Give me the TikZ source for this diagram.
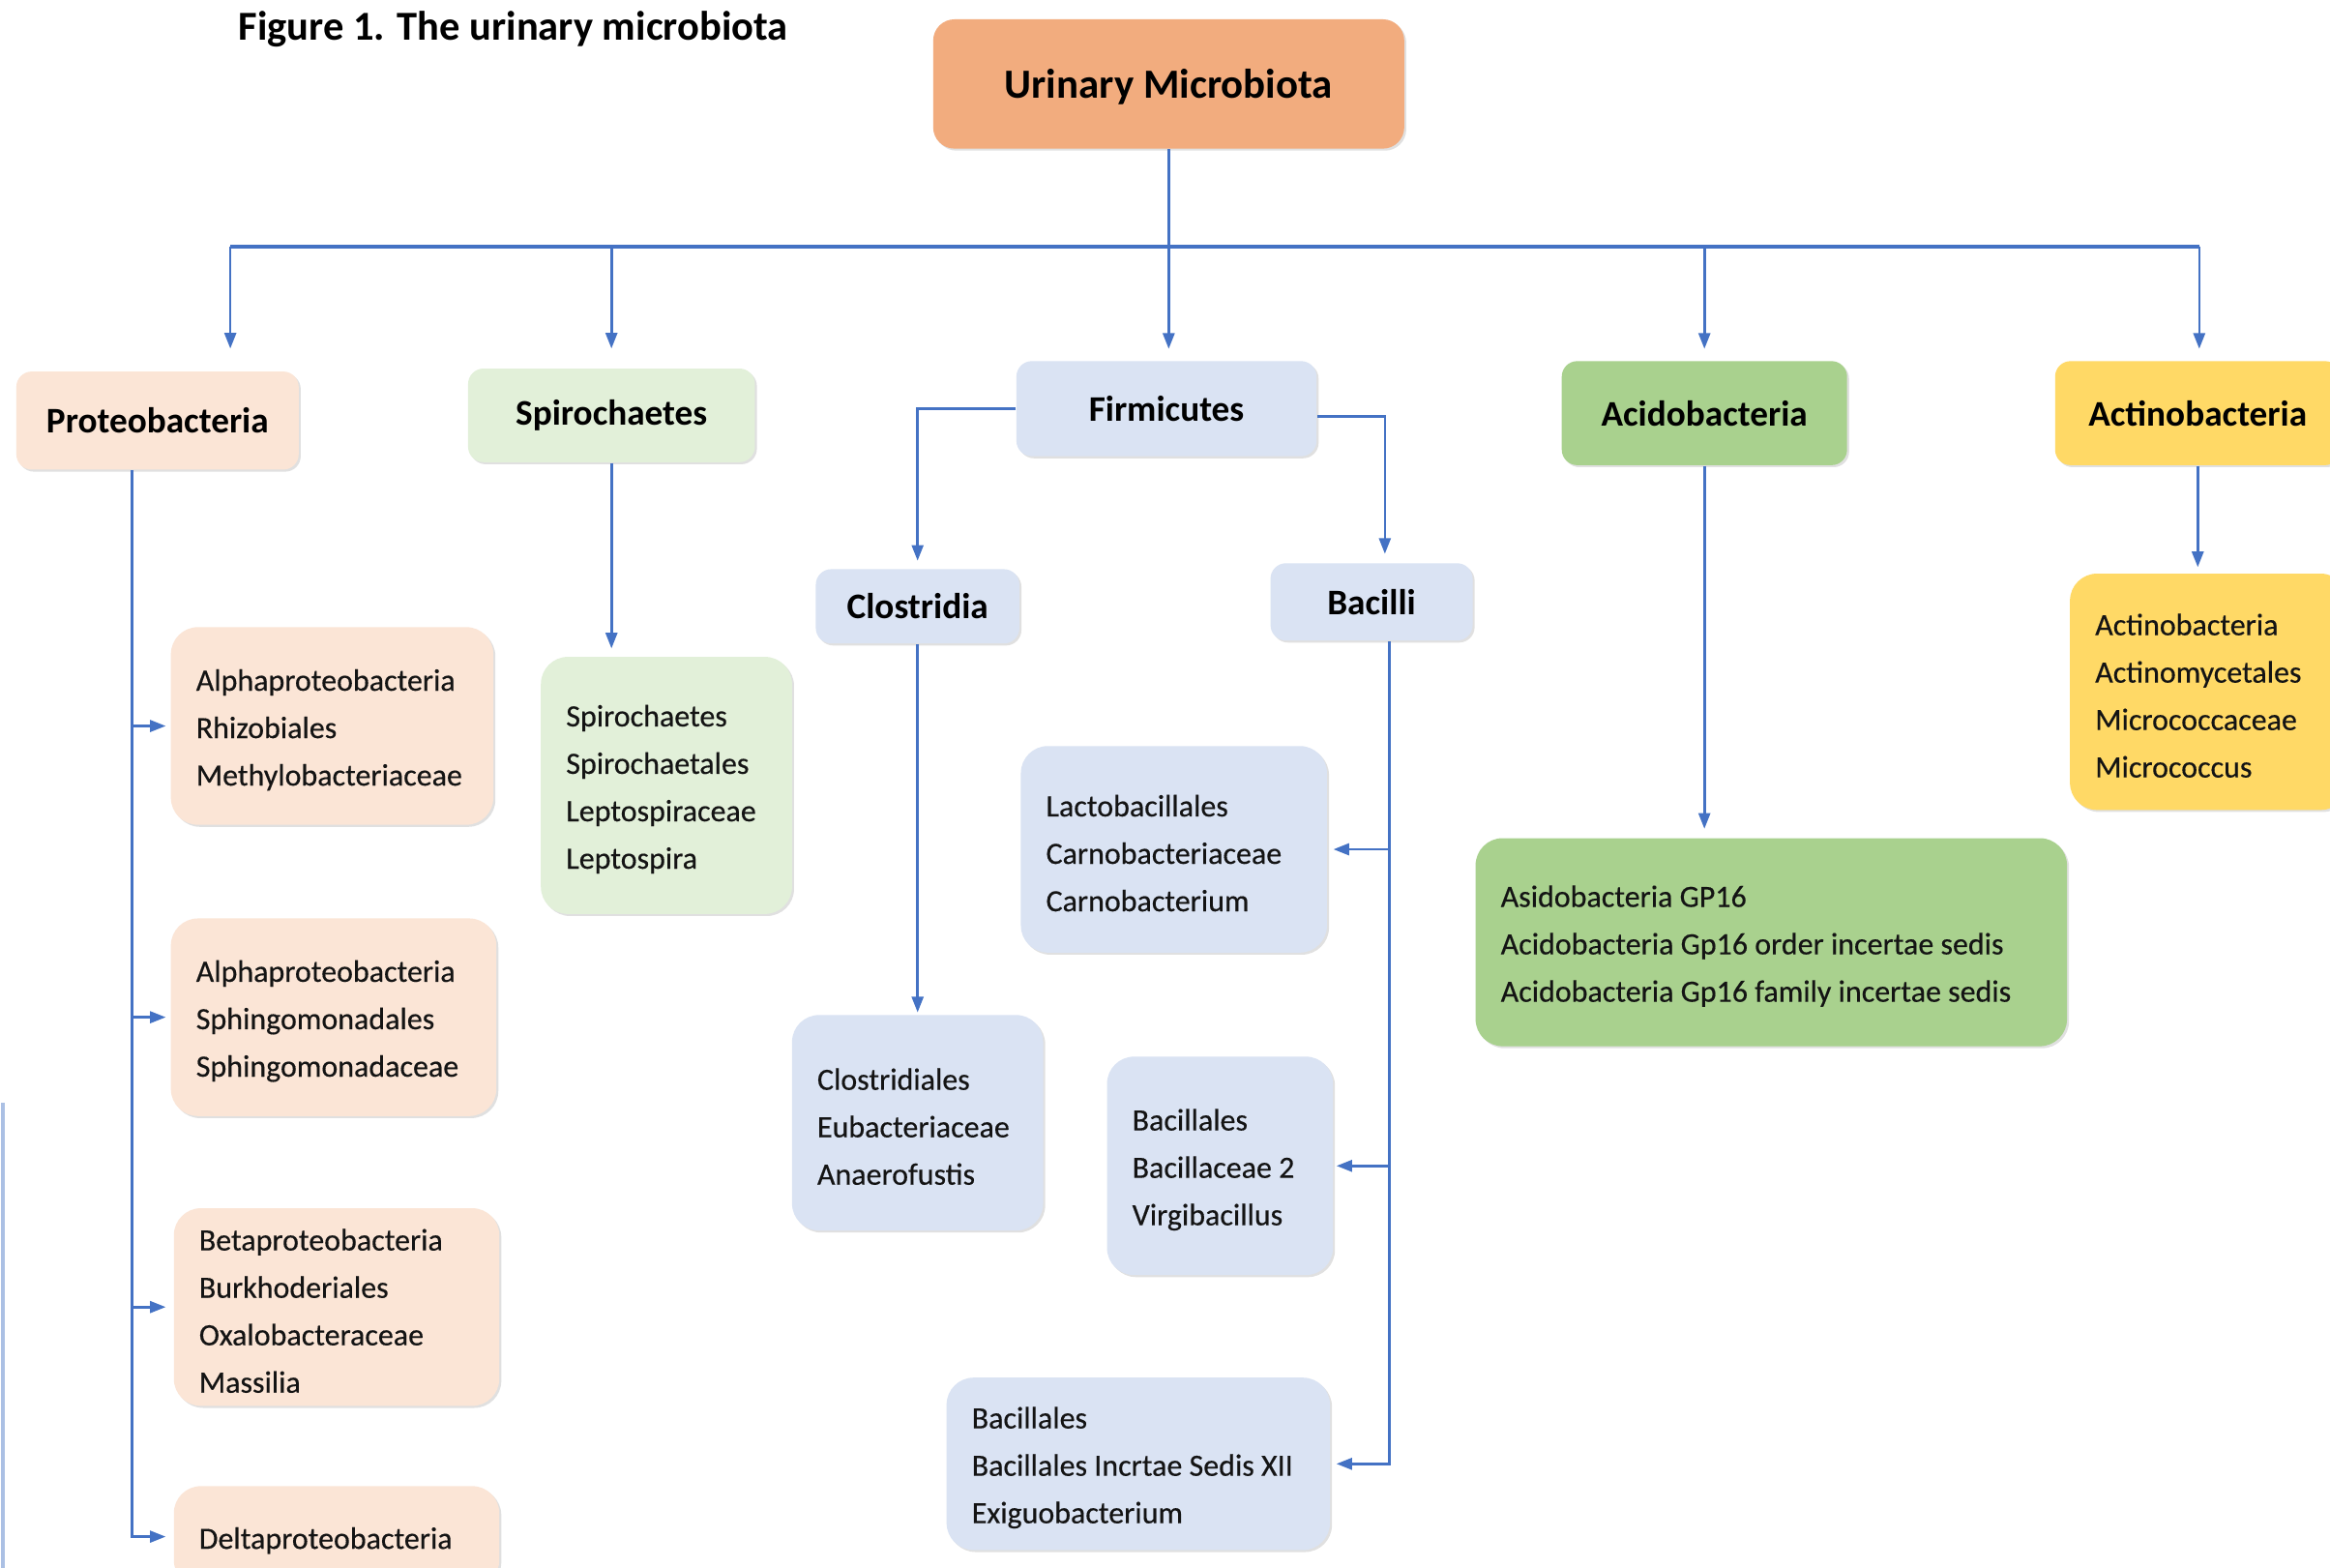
\documentclass[tikz,border=0pt]{standalone}
\usepackage{fontspec}
\setmainfont{Carlito}
\newfontfamily\itemfont[FakeBold=0.35]{Carlito}
\usetikzlibrary{arrows.meta,shadows}
\definecolor{ln}{HTML}{4472C4}
\definecolor{orangeR}{HTML}{F2AC7E}
\definecolor{peach}{HTML}{FBE5D6}
\definecolor{lgreen}{HTML}{E2F0D9}
\definecolor{lblue}{HTML}{DAE3F3}
\definecolor{dgreen}{HTML}{A9D18E}
\definecolor{yel}{HTML}{FFD966}
\definecolor{txt}{HTML}{141414}
\tikzset{
  conn/.style={draw=ln, line width=0.75pt},
  busline/.style={draw=ln, line width=1.05pt},
  arr/.style={conn, -{Triangle[length=4.6pt,width=3.4pt]}},
  shd/.style={drop shadow={shadow xshift=0.6pt, shadow yshift=-0.6pt, opacity=0.12, fill=black}},
  itembox/.style={rounded corners=0.28cm, inner sep=0pt, draw=none, shd},
  headbox/.style={rounded corners=0.16cm, inner sep=0pt, draw=none, shd, align=center, text=black,
     font=\fontsize{10.6}{12}\selectfont\bfseries},
  itemtxt/.style={inner sep=0pt, align=left, text=txt, font=\itemfont\fontsize{9.1}{13.95}\selectfont},
}
\newcommand\mybox[7]{%
  \pgfmathsetlengthmacro\bxw{(#4-#2)*0.015364cm}%
  \pgfmathsetlengthmacro\bxh{(#5-#3)*0.015364cm}%
  \node[itembox, #6, minimum width=\bxw, minimum height=\bxh] (#1) at ({(#2+#4)/2},{(#3+#5)/2}) {};
  \node[itemtxt, anchor=west] (#1-t) at ([xshift=0.261cm, yshift=-0.04cm]#1.west) {#7};}
\newcommand\myhead[7]{%
  \pgfmathsetlengthmacro\bxw{(#4-#2)*0.015364cm}%
  \pgfmathsetlengthmacro\bxh{(#5-#3)*0.015364cm}%
  \node[headbox, #6, minimum width=\bxw, minimum height=\bxh] (#1) at ({(#2+#4)/2},{(#3+#5)/2}) {#7};}
\begin{document}
\begin{tikzpicture}[x=0.015364cm, y=-0.015364cm]
\useasboundingbox[fill=white] (0,0) rectangle (1568,1055);

% title
\node[font=\fontsize{12.1}{14}\selectfont\bfseries, anchor=base west, inner sep=0pt] (title) at (160,27) {Figure 1. The urinary microbiota};

% root and level one
\myhead{root}{628}{13}{945}{100}{fill=orangeR, rounded corners=0.22cm, text depth=0pt, font=\fontsize{12.2}{14}\selectfont\bfseries}{Urinary Microbiota}
\myhead{prot}{11}{250}{201}{316}{fill=peach}{Proteobacteria}
\myhead{spiro}{315}{248}{508}{311}{fill=lgreen}{Spirochaetes}
\myhead{firm}{684}{243}{886}{307}{fill=lblue}{Firmicutes}
\myhead{acido}{1051}{243}{1243}{313}{fill=dgreen}{Acidobacteria}
\myhead{actino}{1383}{243}{1575}{313}{fill=yel}{Actinobacteria}
\myhead{clos}{549}{383}{686}{433}{fill=lblue}{Clostridia}
\myhead{bac}{855}{379}{991}{431}{fill=lblue}{Bacilli}

% item boxes
\mybox{p1}{115}{422}{332}{555}{fill=peach}{Alphaproteobacteria\\Rhizobiales\\Methylobacteriaceae}
\mybox{p2}{115}{618}{334}{751}{fill=peach}{Alphaproteobacteria\\Sphingomonadales\\Sphingomonadaceae}
\mybox{p3}{117}{813}{336}{946}{fill=peach}{Betaproteobacteria\\Burkhoderiales\\Oxalobacteraceae\\Massilia}
\mybox{p4}{117}{1000}{336}{1068}{fill=peach}{Deltaproteobacteria}
\mybox{spit}{364}{442}{533}{615}{fill=lgreen}{Spirochaetes\\Spirochaetales\\Leptospiraceae\\Leptospira}
\mybox{clost}{533}{683}{702}{828}{fill=lblue}{Clostridiales\\Eubacteriaceae\\Anaerofustis}
\mybox{lacto}{687}{502}{893}{641}{fill=lblue}{Lactobacillales\\Carnobacteriaceae\\Carnobacterium}
\mybox{bacl}{745}{711}{897}{858}{fill=lblue}{Bacillales\\Bacillaceae 2\\Virgibacillus}
\mybox{incr}{637}{927}{895}{1043}{fill=lblue}{Bacillales\\Bacillales Incrtae Sedis XII\\Exiguobacterium}
\mybox{acit}{993}{564}{1391}{704}{fill=dgreen}{Asidobacteria GP16\\Acidobacteria Gp16 order incertae sedis\\Acidobacteria Gp16 family incertae sedis}
\mybox{actit}{1393}{386}{1580}{545}{fill=yel}{Actinobacteria\\Actinomycetales\\Micrococcaceae\\Micrococcus}

% bus
\coordinate (busL) at (155,166);
\coordinate (busR) at (1480,166);
\draw[busline] (busL) -- (busR);
\draw[arr, shorten >=0.12cm] (root.south) -- (root.south |- firm.north);
\draw[arr, shorten >=0.23cm] (busL) -- (busL |- prot.north);
\draw[arr, shorten >=0.2cm] (spiro.north |- busL) -- (spiro.north);
\draw[arr, shorten >=0.12cm] (acido.north |- busL) -- (acido.north);
\draw[arr, shorten >=0.12cm] (busR) -- (busR |- actino.north);

% Firmicutes
\draw[arr, shorten >=0.08cm] (firm.west) -| (clos.north);
\draw[arr, shorten >=0.09cm] ([yshift=-0.08cm]firm.east) -| ([xshift=0.138cm]bac.north);
\draw[arr, shorten >=0.02cm] (clos.south) -- (clost.north);
\coordinate (bt) at ([xshift=0.184cm]bac.south);
\draw[arr, shorten >=0.06cm] (bt) |- (incr.east);
\draw[arr, shorten >=0.06cm] (bt |- lacto.east) -- (lacto.east);
\draw[arr, shorten >=0.03cm] (bt |- bacl.east) -- (bacl.east);

% Spirochaetes, Acidobacteria, Actinobacteria
\draw[arr, shorten >=0.08cm] (spiro.south) -- (spiro.south |- spit.north);
\draw[arr, shorten >=0.09cm] (acido.south) -- (acido.south |- acit.north);
\draw[arr, shorten >=0.06cm] (actino.south) -- (actino.south |- actit.north);

% Proteobacteria trunk
\coordinate (pt) at ([xshift=-0.261cm]prot.south);
\draw[arr, shorten >=0.077cm] (pt) |- (p4.west);
\draw[arr, shorten >=0.046cm] (pt |- p1.west) -- (p1.west);
\draw[arr, shorten >=0.046cm] (pt |- p2.west) -- (p2.west);
\draw[arr, shorten >=0.077cm] (pt |- p3.west) -- (p3.west);

% thin line at left edge
\draw[draw=ln!45, line width=1pt] (2,742) -- (2,1060);
\end{tikzpicture}
\end{document}
